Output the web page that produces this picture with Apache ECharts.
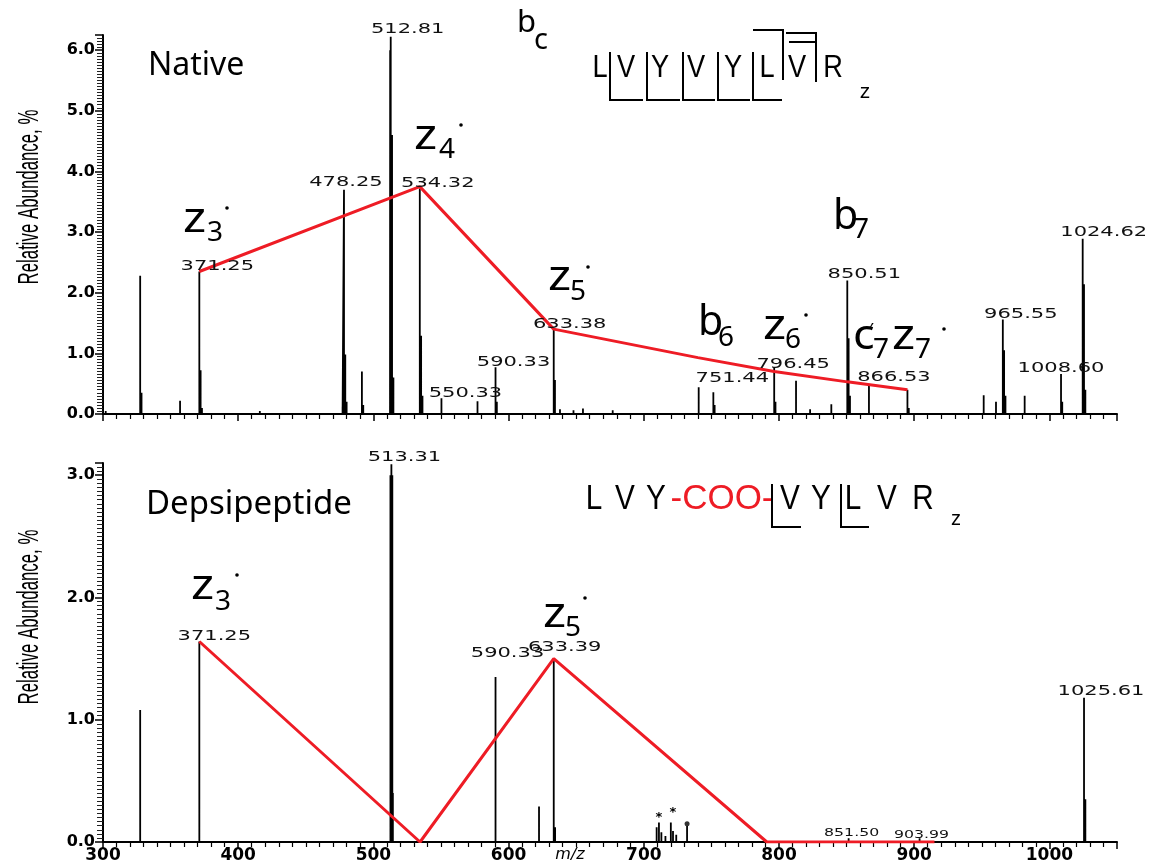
<!DOCTYPE html>
<html><head><meta charset="utf-8"><title>Native vs depsipeptide ETD spectra</title>
<script src="https://cdn.jsdelivr.net/npm/echarts@6.0.0/dist/echarts.min.js"></script>
<style>html,body{margin:0;padding:0;background:#fff}#chart{width:1156px;height:864px}</style>
</head><body><div id="chart"></div>
<script>
// ---------- DATA ----------
// Native peptide spectrum: peak m/z and relative abundance (%)
const nativeMz = [302, 327.5, 328.5, 357, 371.25, 372.2, 373.2, 416, 477.2, 478.25, 479.2, 480.2, 491.5, 492.5,
  512.3, 512.4, 512.81, 513.8, 514.8, 534.32, 535.3, 536.3, 550.33, 577, 590.33, 591.3, 633.38, 634.3, 638, 648, 655, 677,
  740.6, 751.44, 752.4, 796.45, 797.4, 812.6, 823, 838.7, 850.51, 851.5, 852.5, 866.53, 895, 896,
  951.4, 960.5, 965.55, 966.5, 967.5, 981.7, 1008.6, 1009.5, 1024.62, 1025.6, 1026.6];
const nativeAb = [0.05, 2.28, 0.35, 0.22, 2.35, 0.72, 0.10, 0.05, 0.12, 3.70, 0.98, 0.20, 0.70, 0.15,
  0.50, 6.00, 6.22, 4.60, 0.60, 3.72, 1.29, 0.30, 0.26, 0.21, 0.77, 0.20, 1.40, 0.56, 0.08, 0.06, 0.09, 0.06,
  0.44, 0.36, 0.15, 0.77, 0.20, 0.55, 0.08, 0.16, 2.20, 1.25, 0.30, 0.47, 0.40, 0.10,
  0.31, 0.20, 1.56, 1.05, 0.30, 0.30, 0.66, 0.20, 2.89, 2.14, 0.40];
// labelled native peaks
const nativeLabelMz = [371.25, 478.25, 512.81, 534.32, 550.33, 590.33, 633.38, 751.44, 796.45, 850.51, 866.53, 965.55, 1008.60, 1024.62];
const nativeLabelAb = [2.35, 3.70, 6.22, 3.72, 0.26, 0.77, 1.40, 0.36, 0.77, 2.20, 0.47, 1.56, 0.66, 2.89];
const nativeLabelText = ['371.25', '478.25', '512.81', '534.32', '550.33', '590.33', '633.38', '751.44', '796.45', '850.51', '866.53', '965.55', '1008.60', '1024.62'];
// red z-ion trace, native
const nativeTraceMz = [371.25, 534.32, 633.38, 740, 796.45, 850.51, 895];
const nativeTraceAb = [2.35, 3.75, 1.40, 0.93, 0.70, 0.53, 0.40];

// Depsipeptide spectrum
const depsiMz = [327.5, 371.25, 512.6, 512.9, 513.31, 513.8, 514.0, 514.4, 590.33, 622.5, 633.39, 634.4,
  709.5, 711.2, 713, 716, 720, 721.6, 724, 732, 851.5, 903.99, 1025.61, 1026.6];
const depsiAb = [1.08, 1.64, 3.00, 2.12, 3.09, 1.20, 3.00, 0.40, 1.35, 0.29, 1.50, 0.12,
  0.12, 0.16, 0.08, 0.05, 0.16, 0.09, 0.06, 0.13, 0.03, 0.03, 1.18, 0.35];
const depsiLabelMz = [371.25, 513.31, 590.33, 633.39, 851.50, 903.99, 1025.61];
const depsiLabelAb = [1.64, 3.09, 1.35, 1.50, 0.03, 0.03, 1.18];
const depsiLabelText = ['371.25', '513.31', '590.33', '633.39', '851.50', '903.99', '1025.61'];
const depsiTraceMz = [371.25, 534.5, 633.39, 791, 915];
const depsiTraceAb = [1.64, 0, 1.50, 0, 0];
// marked (*) and dotted peaks
const starMz = [711.2, 721.6];
const starAb = [0.20, 0.24];
const dotMz = [732];
const dotAb = [0.15];

// axis ticks
const xTicks = [300, 400, 500, 600, 700, 800, 900, 1000];
const nativeYTicks = [0, 1, 2, 3, 4, 5, 6];
const depsiYTicks = [0, 1, 2, 3];

// ---------- STYLE (label offsets in px, fonts) ----------
const nativeLabelDx = [18, 2, 17, 18, 24, 18, 16, 19, 19, 17, 25, 18, 0, 21];
const nativeLabelDy = [-5, -7, -7, -5, -5, -5, -5, -14, -3, -6, -8, -5, -6, -6];
const depsiLabelDx = [15, 13, 12, 11, 3, 2, 17];
const depsiLabelDy = [-5, -7, -24, -11, -5, -3, -6];
const depsiLabelSize = [14, 14, 14, 14, 11, 11, 14];

const SANS = '"Noto Sans", "Liberation Sans", sans-serif';
const ARIAL = '"Liberation Sans", Arial, sans-serif';
const DJ = '"DejaVu Sans", sans-serif';
const RED = '#ee1c25';

function sticks(mz, ab) {
  const d = [];
  mz.forEach((m, i) => { d.push([m, 0], [m, ab[i]], [m, 0]); });
  return d;
}
function pairs(a, b) { return a.map((v, i) => [v, b[i]]); }

function labelSeries(idx, mz, ab, text, dx, dy, size) {
  return {
    type: 'custom', xAxisIndex: idx, yAxisIndex: idx, silent: true, z: 10,
    data: mz.map((m, i) => [m, ab[i], i]),
    renderItem: function (params, api) {
      const i = api.value(2);
      const p = api.coord([api.value(0), api.value(1)]);
      const fs = Array.isArray(size) ? size[i] : size;
      return {
        type: 'text', x: p[0] + dx[i], y: p[1] + dy[i], scaleX: fs < 13 ? 1.43 : 1.5,
        style: { text: text[i], font: fs + 'px ' + DJ, fill: '#111', align: 'center', verticalAlign: 'middle' }
      };
    }
  };
}

function T(x, base, text, size, o) {
  o = o || {};
  return {
    type: 'text', x: x, y: base - 0.37 * size, scaleX: o.sx || 1, rotation: o.rot || 0, z: 100,
    style: {
      text: text, font: (o.style ? o.style + ' ' : '') + size + 'px ' + (o.font || SANS),
      fill: o.fill || '#000', align: o.align || 'left', verticalAlign: 'middle'
    }
  };
}
function L(points, w) {
  return { type: 'polyline', z: 100, shape: { points: points }, style: { stroke: '#000', lineWidth: w || 2 } };
}
function dot(x, y) {
  return { type: 'circle', z: 100, shape: { cx: x, cy: y, r: 1.8 }, style: { fill: '#000' } };
}
// fragment label: main letter, subscript, optional radical dot / prime
function frag(x, base, main, sub, subDx, subDy, mark, mainSize, subSize) {
  const sx = main === 'z' ? 1.2 : (main === 'c' ? 1.1 : 1);
  const out = [T(x, base, main, mainSize || 41, { sx: sx }), T(x + subDx, base + subDy, sub, subSize || 28)];
  if (mark && mark.t === 'dot') out.push(dot(x + mark.dx, base + mark.dy));
  if (mark && mark.t === 'prime') out.push(T(x + mark.dx, base + mark.dy, '\u2032', 18));
  return out;
}

const graphics = [].concat(
  // y axis names
  [{ type: 'text', x: 30, y: 197, rotation: Math.PI / 2, scaleX: 0.58, z: 100,
     style: { text: 'Relative Abundance, %', font: '29px ' + ARIAL, fill: '#000', align: 'center', verticalAlign: 'middle' } },
   { type: 'text', x: 30, y: 617, rotation: Math.PI / 2, scaleX: 0.58, z: 100,
     style: { text: 'Relative Abundance, %', font: '29px ' + ARIAL, fill: '#000', align: 'center', verticalAlign: 'middle' } },
   T(570, 861, 'm/z', 16, { style: 'italic', font: DJ, align: 'center' }),
   T(148, 78, 'Native', 32),
   T(146, 517, 'Depsipeptide', 33)],
  // fragment labels, native
  frag(517, 35, 'b', 'c', 17, 16, null, 31, 29),
  frag(183, 235, 'z', '3', 24, 8, { t: 'dot', dx: 44, dy: -27 }),
  frag(414, 152, 'z', '4', 25, 8, { t: 'dot', dx: 47, dy: -27 }),
  frag(548, 293, 'z', '5', 22, 9, { t: 'dot', dx: 40, dy: -26 }),
  frag(698, 338, 'b', '6', 20, 10),
  frag(763, 342, 'z', '6', 22, 8, { t: 'dot', dx: 43, dy: -27 }),
  frag(833, 232, 'b', '7', 20, 8),
  frag(853, 352, 'c', '7', 20, 8, { t: 'prime', dx: 16, dy: -14 }),
  frag(892, 352, 'z', '7', 23, 8, { t: 'dot', dx: 52, dy: -23 }),
  // fragment labels, depsipeptide
  frag(191, 602, 'z', '3', 24, 10, { t: 'dot', dx: 46, dy: -27 }),
  frag(543, 630, 'z', '5', 22, 8, { t: 'dot', dx: 42, dy: -32 }),
  // native sequence
  [T(600, 80, 'L', 32, { font: ARIAL, align: 'center', sx: 0.85 }),
   T(626, 80, 'V', 32, { font: ARIAL, align: 'center', sx: 0.85 }),
   T(660, 80, 'Y', 32, { font: ARIAL, align: 'center', sx: 0.85 }),
   T(696, 80, 'V', 32, { font: ARIAL, align: 'center', sx: 0.85 }),
   T(733, 80, 'Y', 32, { font: ARIAL, align: 'center', sx: 0.85 }),
   T(767, 80, 'L', 32, { font: ARIAL, align: 'center', sx: 0.85 }),
   T(797, 80, 'V', 32, { font: ARIAL, align: 'center', sx: 0.85 }),
   T(833, 80, 'R', 32, { font: ARIAL, align: 'center', sx: 0.85 }),
   T(865, 100, 'z', 21, { font: ARIAL, align: 'center' }),
   L([[610, 52], [610, 100], [643, 100]]),
   L([[647, 52], [647, 100], [680, 100]]),
   L([[683, 52], [683, 100], [715, 100]]),
   L([[718, 52], [718, 100], [750, 100]]),
   L([[753, 52], [753, 100], [782, 100]]),
   L([[753, 30], [783, 30], [783, 80]]),
   L([[786, 33], [816, 33], [816, 82]]),
   L([[789, 42], [816, 42]])],
  // depsipeptide sequence
  [T(594, 512, 'L', 35, { font: ARIAL, align: 'center', sx: 0.85 }),
   T(625, 512, 'V', 35, { font: ARIAL, align: 'center', sx: 0.85 }),
   T(656, 512, 'Y', 35, { font: ARIAL, align: 'center', sx: 0.85 }),
   T(722, 512, '-COO-', 35, { font: ARIAL, align: 'center', fill: RED }),
   T(790, 512, 'V', 35, { font: ARIAL, align: 'center', sx: 0.85 }),
   T(821, 512, 'Y', 35, { font: ARIAL, align: 'center', sx: 0.85 }),
   T(853, 512, 'L', 35, { font: ARIAL, align: 'center', sx: 0.85 }),
   T(887, 512, 'V', 35, { font: ARIAL, align: 'center', sx: 0.85 }),
   T(923, 512, 'R', 35, { font: ARIAL, align: 'center', sx: 0.85 }),
   T(956, 527, 'z', 20, { font: ARIAL, align: 'center' }),
   L([[772, 484], [772, 527], [801, 527]]),
   L([[841, 484], [841, 527], [869, 527]])]
);

function xAxis(idx, showLabels) {
  return {
    type: 'value', gridIndex: idx, min: 300, max: 1050, interval: 100,
    axisLine: { show: true, onZero: false, lineStyle: { color: '#000', width: 2 } },
    axisTick: { show: true, length: 7, lineStyle: { color: '#000', width: 1.5 } },
    minorTick: { show: true, splitNumber: 10, length: 5, lineStyle: { color: '#000', width: 1.2 } },
    splitLine: { show: false },
    axisLabel: {
      show: showLabels, showMaxLabel: false, margin: 5, color: '#000',
      fontFamily: '"DejaVu Sans", sans-serif', fontWeight: 'bold', fontSize: 17,
      formatter: v => (xTicks.indexOf(v) >= 0 ? String(v) : '')
    }
  };
}
function yAxis(idx, max, ticks, minorSplit) {
  return {
    type: 'value', gridIndex: idx, min: 0, max: max, interval: 1,
    axisLine: { show: true, onZero: false, lineStyle: { color: '#000', width: 2 } },
    axisTick: { show: true, length: 8, lineStyle: { color: '#000', width: 1.5 } },
    minorTick: { show: true, splitNumber: minorSplit, length: 6, lineStyle: { color: '#222', width: 1 } },
    splitLine: { show: false },
    axisLabel: {
      showMaxLabel: false, margin: 8, color: '#000',
      fontFamily: '"DejaVu Sans", sans-serif', fontWeight: 'bold', fontSize: 16,
      formatter: v => (ticks.indexOf(v) >= 0 ? v.toFixed(1) : '')
    }
  };
}

const option = {
  animation: false,
  backgroundColor: '#fff',
  grid: [
    { left: 103, width: 1014, top: 35, height: 379 },
    { left: 103, width: 1014, top: 463, height: 379 }
  ],
  xAxis: [xAxis(0, false), xAxis(1, true)],
  yAxis: [yAxis(0, 6.25, nativeYTicks, 20), yAxis(1, 3.1, depsiYTicks, 30)],
  series: [
    { type: 'line', xAxisIndex: 0, yAxisIndex: 0, data: sticks(nativeMz, nativeAb), showSymbol: false, symbol: 'none',
      lineStyle: { color: '#000', width: 1.8 }, z: 3, silent: true },
    { type: 'line', xAxisIndex: 1, yAxisIndex: 1, data: sticks(depsiMz, depsiAb), showSymbol: false, symbol: 'none',
      lineStyle: { color: '#000', width: 1.8 }, z: 3, silent: true },
    { type: 'line', xAxisIndex: 0, yAxisIndex: 0, data: pairs(nativeTraceMz, nativeTraceAb), showSymbol: false, symbol: 'none',
      lineStyle: { color: RED, width: 3 }, z: 5, silent: true },
    { type: 'line', xAxisIndex: 1, yAxisIndex: 1, data: pairs(depsiTraceMz, depsiTraceAb), showSymbol: false, symbol: 'none',
      lineStyle: { color: RED, width: 3 }, z: 5, silent: true },
    labelSeries(0, nativeLabelMz, nativeLabelAb, nativeLabelText, nativeLabelDx, nativeLabelDy, 14),
    labelSeries(1, depsiLabelMz, depsiLabelAb, depsiLabelText, depsiLabelDx, depsiLabelDy, depsiLabelSize),
    { type: 'custom', xAxisIndex: 1, yAxisIndex: 1, silent: true, z: 10,
      data: pairs(starMz, starAb),
      renderItem: function (params, api) {
        const p = api.coord([api.value(0), api.value(1)]);
        return { type: 'text', x: p[0], y: p[1], style: { text: '*', font: 'bold 13px ' + DJ, fill: '#000', align: 'center', verticalAlign: 'middle' } };
      } },
    { type: 'scatter', xAxisIndex: 1, yAxisIndex: 1, data: pairs(dotMz, dotAb), symbol: 'circle', symbolSize: 5,
      itemStyle: { color: '#000' }, silent: true, z: 10 }
  ],
  graphic: graphics
};

const chart = echarts.init(document.getElementById('chart'), null, { renderer: 'canvas' });
chart.setOption(option);
</script>
</body></html>
